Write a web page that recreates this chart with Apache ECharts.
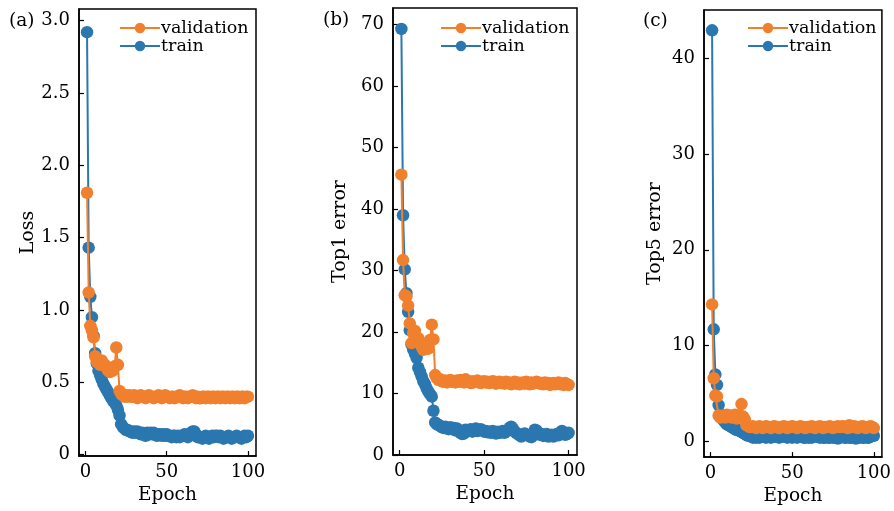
<!DOCTYPE html>
<html><head><meta charset="utf-8">
<script src="https://cdn.jsdelivr.net/npm/echarts@6/dist/echarts.min.js"></script>
<style>html,body{margin:0;padding:0;background:#fff}#c{width:894px;height:511px}</style>
</head><body><div id="c"></div>
<script>
// Loss (a)
const lossTrain = [2.92,1.43,1.09,0.95,0.82,0.70,0.63,0.58,0.55,0.52,
0.49,0.47,0.45,0.43,0.41,0.39,0.37,0.36,0.34,0.31,
0.27,0.21,0.19,0.18,0.17,0.17,0.16,0.16,0.15,0.16,
0.15,0.16,0.15,0.14,0.15,0.14,0.13,0.15,0.14,0.15,
0.14,0.15,0.14,0.13,0.14,0.14,0.13,0.14,0.13,0.14,
0.13,0.13,0.12,0.13,0.13,0.12,0.13,0.12,0.13,0.13,
0.14,0.13,0.12,0.14,0.15,0.16,0.16,0.14,0.12,0.12,
0.12,0.11,0.12,0.13,0.12,0.11,0.12,0.13,0.12,0.13,
0.13,0.12,0.13,0.12,0.11,0.12,0.12,0.13,0.12,0.11,
0.12,0.12,0.13,0.12,0.12,0.11,0.12,0.13,0.12,0.13];
const lossVal = [1.81,1.12,0.89,0.86,0.81,0.68,0.64,0.64,0.62,0.65,
0.63,0.62,0.60,0.58,0.57,0.60,0.58,0.61,0.74,0.62,
0.44,0.42,0.41,0.40,0.41,0.40,0.41,0.40,0.40,0.41,
0.40,0.39,0.40,0.41,0.40,0.40,0.39,0.40,0.41,0.40,
0.40,0.39,0.40,0.40,0.41,0.40,0.39,0.40,0.41,0.40,
0.40,0.39,0.40,0.40,0.39,0.40,0.40,0.41,0.40,0.39,
0.40,0.40,0.39,0.40,0.40,0.41,0.40,0.39,0.40,0.39,
0.39,0.40,0.40,0.39,0.40,0.40,0.39,0.40,0.40,0.39,
0.40,0.40,0.39,0.40,0.40,0.39,0.40,0.40,0.39,0.40,
0.40,0.39,0.40,0.40,0.39,0.40,0.40,0.39,0.40,0.40];
// Top1 error (b)
const top1Train = [69.3,39.0,30.2,26.3,23.3,20.3,18.0,17.2,16.5,15.8,
14.2,13.5,12.8,12.0,11.5,10.8,10.3,9.9,9.5,7.2,
5.3,5.0,4.9,4.7,4.5,4.4,4.6,4.3,4.2,4.5,
4.2,4.4,4.0,4.3,3.9,3.6,3.4,3.5,4.1,3.9,
4.0,4.2,3.8,4.0,4.3,3.9,4.1,4.2,4.0,3.8,
3.9,3.7,3.8,3.6,3.9,3.7,3.5,3.8,3.6,3.7,
3.9,3.6,3.8,4.0,4.4,4.6,4.3,3.8,3.6,3.4,
3.2,3.0,3.3,3.5,3.3,3.2,3.0,2.9,3.4,4.1,
4.0,3.6,3.3,3.4,3.1,3.2,3.4,3.0,3.1,3.3,
3.0,3.2,3.4,3.2,3.6,3.9,3.5,3.3,3.4,3.6];
const top1Val = [45.6,31.7,26.0,25.8,24.3,21.4,18.2,19.8,20.2,18.5,
19.0,18.2,17.6,17.1,17.5,18.0,17.3,18.7,21.2,18.8,
13.0,12.5,12.2,12.3,12.0,11.9,12.1,11.8,12.0,12.2,
11.9,12.0,11.8,12.1,11.9,12.2,12.0,11.8,12.3,12.0,
11.9,11.7,12.0,11.8,11.9,12.1,11.8,11.7,11.9,12.0,
11.8,11.9,11.7,11.8,12.0,11.9,11.6,11.8,11.9,11.7,
11.8,11.6,11.9,11.7,11.8,11.5,11.7,11.9,11.6,11.8,
11.5,11.7,11.8,11.6,11.9,11.7,11.5,11.8,11.6,11.7,
11.9,11.8,11.6,11.7,11.5,11.8,11.6,11.7,11.4,11.6,
11.7,11.5,11.6,11.8,11.5,11.6,11.4,11.7,11.5,11.4];
// Top5 error (c)
const top5Train = [42.9,11.7,7.0,5.9,3.8,2.9,2.5,2.2,2.0,1.8,
1.7,1.6,1.5,1.4,1.3,1.2,1.2,1.1,1.0,0.9,
0.8,0.7,0.6,0.6,0.5,0.4,0.5,0.4,0.5,0.4,
0.5,0.6,0.5,0.4,0.5,0.5,0.4,0.5,0.6,0.5,
0.5,0.4,0.5,0.5,0.6,0.5,0.4,0.5,0.5,0.4,
0.5,0.5,0.4,0.5,0.6,0.5,0.4,0.4,0.5,0.4,
0.5,0.4,0.5,0.6,0.5,0.5,0.4,0.5,0.4,0.4,
0.5,0.4,0.4,0.5,0.4,0.5,0.4,0.3,0.4,0.5,
0.5,0.4,0.4,0.5,0.4,0.4,0.5,0.4,0.3,0.4,
0.4,0.5,0.4,0.4,0.5,0.4,0.4,0.5,0.6,0.6];
const top5Val = [14.3,6.6,4.8,4.7,2.7,2.5,2.6,2.7,2.5,2.8,
2.6,2.7,2.5,2.6,2.8,2.4,2.7,2.6,3.9,2.6,
2.3,1.7,1.6,1.5,1.5,1.6,1.5,1.4,1.5,1.6,
1.5,1.4,1.5,1.6,1.5,1.5,1.4,1.5,1.6,1.5,
1.5,1.4,1.5,1.5,1.6,1.5,1.4,1.5,1.5,1.6,
1.5,1.5,1.4,1.5,1.6,1.5,1.5,1.4,1.5,1.5,
1.5,1.6,1.5,1.4,1.5,1.5,1.6,1.5,1.4,1.5,
1.5,1.5,1.6,1.5,1.4,1.5,1.5,1.6,1.5,1.5,
1.6,1.5,1.5,1.4,1.7,1.5,1.5,1.6,1.5,1.4,
1.5,1.5,1.6,1.5,1.4,1.5,1.5,1.6,1.5,1.4];

const xTicks = [0, 50, 100];
const yTicksA = [0, 0.5, 1.0, 1.5, 2.0, 2.5, 3.0];
const yTicksB = [0, 10, 20, 30, 40, 50, 60, 70];
const yTicksC = [0, 10, 20, 30, 40];
const panelLabels = ['(a)', '(b)', '(c)'];
const yNames = ['Loss', 'Top1 error', 'Top5 error'];
const xName = 'Epoch';
const seriesNames = ['validation', 'train'];

const ORANGE = '#F0802E', BLUE = '#2B77B0';
const FONT = 'DejaVu Serif';
const toPairs = arr => arr.map((v, i) => [i + 1, v]);

const grids = [
  {left: 79, top: 9, width: 177, height: 447},
  {left: 393, top: 8, width: 184, height: 447},
  {left: 704, top: 10, width: 184, height: 449}
];
const yRanges = [[-0.01, 3.08], [0, 72.7], [-1.63, 45.02]];
const yTicks = [yTicksA, yTicksB, yTicksC];
const yFmt = [v => (v === 0 ? '0' : v.toFixed(1)), v => String(v), v => String(v)];
const nameGaps = [40, 43, 39];
const legendLefts = [114, 435, 742];
const data = [[lossTrain, lossVal], [top1Train, top1Val], [top5Train, top5Val]];

const option = {
  animation: false,
  backgroundColor: '#fff',
  textStyle: {fontFamily: FONT, color: '#000'},
  grid: grids.map(g => Object.assign({show: true, borderColor: '#000', borderWidth: 1.5, backgroundColor: 'transparent'}, g)),
  xAxis: grids.map((g, i) => ({
    type: 'value', gridIndex: i, min: -3.95, max: 104.95,
    name: xName, nameLocation: 'middle', nameGap: 27,
    nameTextStyle: {fontFamily: FONT, fontSize: 18.5, color: '#000'},
    axisLine: {show: true, onZero: false, lineStyle: {color: '#000', width: 1.5}},
    axisTick: {show: true, inside: true, length: 5, customValues: xTicks, lineStyle: {color: '#000', width: 1.2}},
    axisLabel: {show: true, customValues: xTicks, margin: 7, fontFamily: FONT, fontSize: 18, color: '#000'},
    splitLine: {show: false}
  })),
  yAxis: grids.map((g, i) => ({
    type: 'value', gridIndex: i, min: yRanges[i][0], max: yRanges[i][1],
    name: yNames[i], nameLocation: 'middle', nameGap: nameGaps[i],
    nameTextStyle: {fontFamily: FONT, fontSize: 19, color: '#000'},
    axisLine: {show: true, onZero: false, lineStyle: {color: '#000', width: 1.5}},
    axisTick: {show: true, inside: true, length: 5, customValues: yTicks[i], lineStyle: {color: '#000', width: 1.2}},
    axisLabel: {show: true, customValues: yTicks[i], margin: 9, fontFamily: FONT, fontSize: 18, color: '#000', formatter: yFmt[i]},
    splitLine: {show: false}
  })),
  legend: grids.map((g, i) => ({
    data: seriesNames, orient: 'vertical',
    left: legendLefts[i], top: 14,
    itemWidth: 40, itemHeight: 13, itemGap: 0,
    textStyle: {fontFamily: FONT, fontSize: 17.5, color: '#000', padding: [0, 0, 0, -4]},
    selectedMode: false
  })),
  graphic: panelLabels.map((t, i) => ({
    type: 'text', left: [9, 323, 643][i], top: [12, 11, 12][i],
    style: {text: t, fontFamily: FONT, fontSize: 18.5, fill: '#000'}
  })),
  series: []
};
data.forEach((d, i) => {
  option.series.push({
    name: 'train', type: 'line', xAxisIndex: i, yAxisIndex: i, data: toPairs(d[0]),
    symbol: 'circle', symbolSize: 12.5, color: BLUE,
    lineStyle: {width: 2, color: BLUE}, itemStyle: {color: BLUE}, z: 2
  });
  option.series.push({
    name: 'validation', type: 'line', xAxisIndex: i, yAxisIndex: i, data: toPairs(d[1]),
    symbol: 'circle', symbolSize: 12.5, color: ORANGE,
    lineStyle: {width: 2, color: ORANGE}, itemStyle: {color: ORANGE}, z: 3
  });
});
const chart = echarts.init(document.getElementById('c'), null, {renderer: 'canvas'});
chart.setOption(option);
</script></body></html>
